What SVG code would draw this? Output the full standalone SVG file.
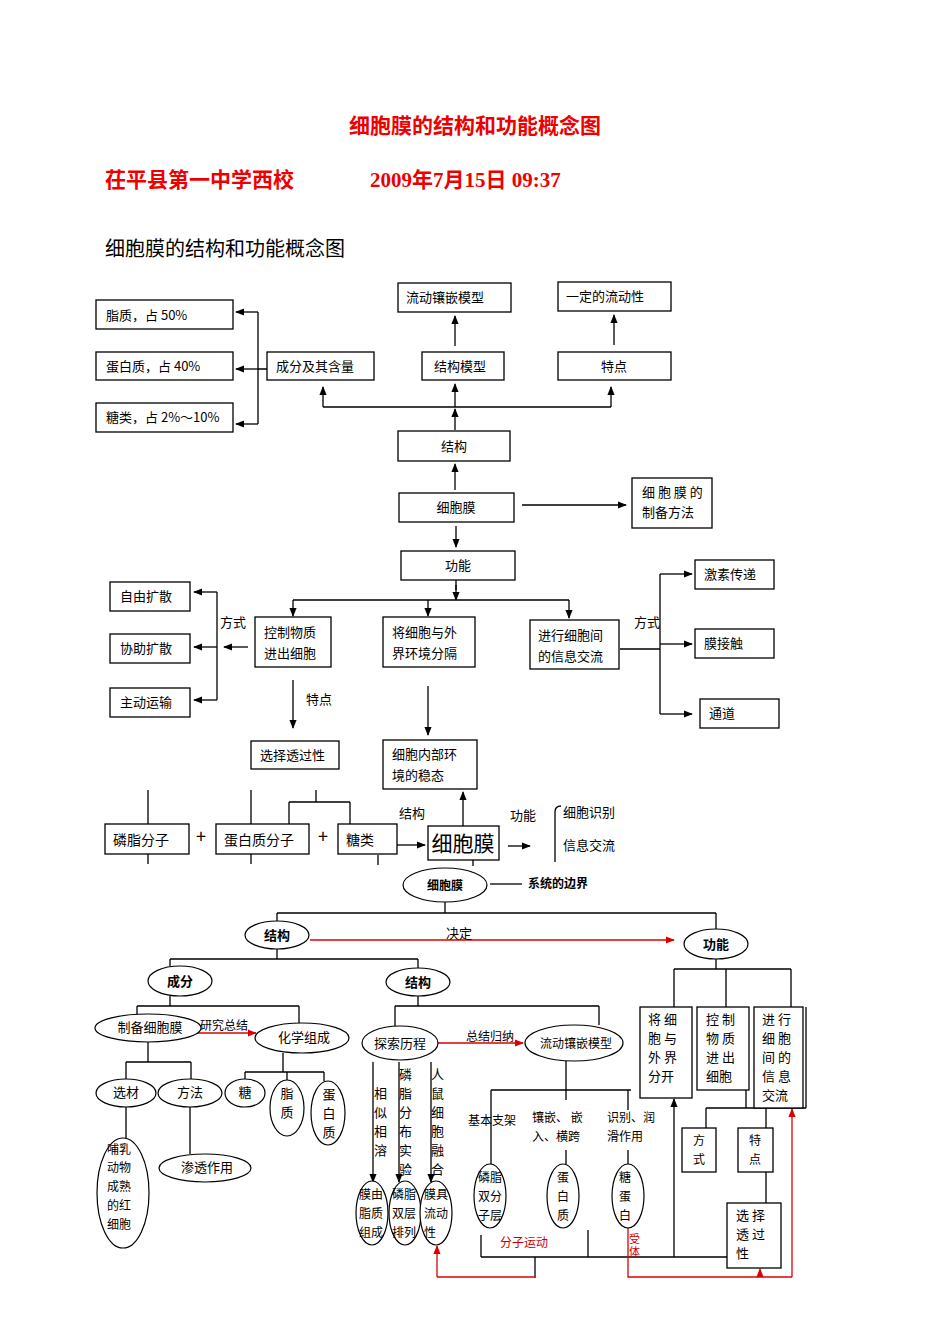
<svg xmlns="http://www.w3.org/2000/svg" width="950" height="1342" viewBox="0 0 950 1342">
<defs>
<marker id="a" viewBox="0 0 10 10" refX="9" refY="5" markerWidth="7" markerHeight="7" orient="auto"><path d="M0,1 L10,5 L0,9 z" fill="#000"/></marker>
<marker id="r" viewBox="0 0 10 10" refX="9" refY="5" markerWidth="7" markerHeight="7" orient="auto"><path d="M0,1 L10,5 L0,9 z" fill="#d00"/></marker>
</defs>
<style>
text{font-family:"Noto Sans CJK SC","Liberation Sans",sans-serif;font-size:13px;fill:#000}
.b{fill:#fff;stroke:#000;stroke-width:1.3}
.e{fill:#fff;stroke:#000;stroke-width:1.2}
.l{fill:none;stroke:#000;stroke-width:1.3}
.la{fill:none;stroke:#000;stroke-width:1.3;marker-end:url(#a)}
.rl{fill:none;stroke:#d00;stroke-width:1.3}
.ra{fill:none;stroke:#d00;stroke-width:1.3;marker-end:url(#r)}
.t{font-family:"Liberation Serif","Noto Sans CJK SC",serif;font-size:21px;font-weight:bold;fill:#e00}
.bd{font-weight:bold}
.red{fill:#c00}
.m{text-anchor:middle}
</style>
<rect width="950" height="1342" fill="#fff"/>
<text class="t m" x="475" y="133">细胞膜的结构和功能概念图</text>
<text class="t" x="105" y="187">茌平县第一中学西校</text>
<text class="t" x="370" y="187">2009年7月15日  09:37</text>
<text x="105" y="256" style="font-size:20px;font-family:'Noto Sans CJK SC',serif">细胞膜的结构和功能概念图</text>

<g id="connectors">
<path class="l" d="M258,312 V424 M267,369 H258"/>
<path class="la" d="M258,312 H236"/><path class="la" d="M258,369 H236"/><path class="la" d="M258,424 H236"/>
<path class="l" d="M323,407 H611"/>
<path class="la" d="M323,407 V387"/><path class="la" d="M455,407 V384"/><path class="la" d="M611,407 V387"/>
<path class="la" d="M455,430 V409"/><path class="la" d="M455,346 V316"/><path class="la" d="M614,345 V315"/>
<path class="la" d="M455,490 V464"/><path class="la" d="M522,505 H626"/><path class="la" d="M456,526 V547"/>
<path class="l" d="M293,600 H569 M456,580 V590"/>
<path class="la" d="M456,585 V600"/><path class="la" d="M293,600 V616"/><path class="la" d="M428,600 V616"/><path class="la" d="M569,600 V618"/>
<path class="l" d="M217,592 V700"/>
<path class="la" d="M217,592 H194"/><path class="la" d="M217,647 H194"/><path class="la" d="M217,700 H194"/><path class="la" d="M248,647 H224"/>
<path class="la" d="M293,680 V728"/><path class="la" d="M428,686 V735"/>
<path class="l" d="M620,649 H660 M660,574 V714"/>
<path class="la" d="M660,574 H692"/><path class="la" d="M660,644 H692"/><path class="la" d="M660,714 H692"/>
<path class="l" d="M148,790 V824 M148,854 V864 M251,790 V824 M251,854 V864 M316,790 V802 M289,802 H350 M289,802 V824 M350,802 V824 M378,855 V865 M473,860 V866 M555,862 V812 Q555,806 561,806"/>
<path class="la" d="M397,845 H425"/><path class="la" d="M463,826 V792"/><path class="la" d="M508,846 H530"/>
<path class="l" d="M490,884 H522"/>
<path class="l" d="M445,902 V913 M277,913 H716 M277,913 V921 M716,913 V929"/>
<path class="ra" d="M310,940 H674"/>
<path class="l" d="M277,949 V959 M170,959 H418 M170,959 V966 M418,959 V968"/>
<path class="l" d="M170,996 V1006 M137,1006 H299 M137,1006 V1018 M299,1006 V1023"/>
<path class="ra" d="M193,1033 H256"/>
<path class="l" d="M148,1042 V1062 M126,1062 H191 M126,1062 V1079 M191,1062 V1079 M126,1107 V1138 M190,1107 V1154"/>
<path class="l" d="M283,1053 V1072 M245,1072 H324 M245,1072 V1079 M287,1072 V1080 M324,1072 V1081"/>
<path class="l" d="M418,996 V1006 M395,1006 H599 M395,1006 V1026 M599,1006 V1025"/>
<path class="ra" d="M438,1043 H523"/>
<path class="la" d="M373,1062 V1182"/><path class="la" d="M399,1062 V1182"/><path class="la" d="M431,1062 V1182"/>
<path class="l" d="M566,1061 V1090 M491,1090 H631 M491,1090 V1164 M566,1090 V1100 M566,1150 V1164 M628,1090 V1110 M628,1150 V1164"/>
<path class="l" d="M481,1235 V1257 M588,1230 V1257 M481,1257 H727 M535,1257 V1278"/>
<path class="la" d="M674,1257 V1099"/>
<path class="rl" d="M535,1277 H437"/>
<path class="ra" d="M437,1277 V1246"/>
<path class="rl" d="M628,1228 V1277 H792"/>
<path class="ra" d="M792,1277 V1109"/><path class="ra" d="M760,1277 V1269"/>
<path class="l" d="M716,959 V969 M674,969 H791 M674,969 V1007 M726,969 V1007 M791,969 V1007 M806,1007 V1108"/>
<path class="l" d="M746,1090 V1108 M706,1108 H806 M706,1108 V1128 M766,1108 V1128 M766,1172 V1203"/>
</g>

<g id="n-zhizhi"><rect class="b" x="96" y="300" width="137" height="29"/><text x="106" y="320">脂质，占 50%</text></g>
<g id="n-danbai"><rect class="b" x="96" y="352" width="137" height="28"/><text x="106" y="371">蛋白质，占 40%</text></g>
<g id="n-tang"><rect class="b" x="96" y="403" width="137" height="29"/><text x="106" y="422">糖类，占 2%～10%</text></g>
<g id="n-chengfen"><rect class="b" x="267" y="352" width="107" height="28"/><text x="276" y="371">成分及其含量</text></g>
<g id="n-jiegoumoxing"><rect class="b" x="422" y="352" width="82" height="28"/><text class="m" x="460" y="371">结构模型</text></g>
<g id="n-tedian"><rect class="b" x="558" y="352" width="113" height="28"/><text class="m" x="614" y="371">特点</text></g>
<g id="n-liudong"><rect class="b" x="398" y="283" width="113" height="29"/><text x="406" y="302">流动镶嵌模型</text></g>
<g id="n-yiding"><rect class="b" x="558" y="282" width="113" height="29"/><text x="566" y="301">一定的流动性</text></g>
<g id="n-jiegou"><rect class="b" x="398" y="431" width="112" height="30"/><text class="m" x="454" y="451">结构</text></g>
<g id="n-xibaomo"><rect class="b" x="399" y="493" width="115" height="29"/><text class="m" x="456" y="512">细胞膜</text></g>
<g id="n-zhibei"><rect class="b" x="632" y="478" width="80" height="50"/><text x="642" y="497">细 胞 膜 的</text><text x="642" y="517">制备方法</text></g>
<g id="n-gongneng"><rect class="b" x="401" y="551" width="114" height="29"/><text class="m" x="458" y="570">功能</text></g>
<g id="n-ziyou"><rect class="b" x="110" y="582" width="80" height="29"/><text x="120" y="601">自由扩散</text></g>
<g id="n-xiezhu"><rect class="b" x="110" y="634" width="80" height="29"/><text x="120" y="653">协助扩散</text></g>
<g id="n-zhudong"><rect class="b" x="110" y="688" width="80" height="29"/><text x="120" y="707">主动运输</text></g>
<text x="220" y="627">方式</text>
<g id="n-kongzhi"><rect class="b" x="255" y="617" width="76" height="50"/><text x="264" y="637">控制物质</text><text x="264" y="658">进出细胞</text></g>
<g id="n-jiang"><rect class="b" x="383" y="617" width="92" height="50"/><text x="392" y="637">将细胞与外</text><text x="392" y="658">界环境分隔</text></g>
<g id="n-jinxing"><rect class="b" x="530" y="620" width="89" height="49"/><text x="538" y="640">进行细胞间</text><text x="538" y="661">的信息交流</text></g>
<text x="634" y="627">方式</text>
<g id="n-jisu"><rect class="b" x="695" y="560" width="79" height="29"/><text x="704" y="579">激素传递</text></g>
<g id="n-mojie"><rect class="b" x="695" y="629" width="79" height="29"/><text x="704" y="648">膜接触</text></g>
<g id="n-tongdao"><rect class="b" x="700" y="699" width="79" height="29"/><text x="709" y="718">通道</text></g>
<text x="306" y="704">特点</text>
<g id="n-xuanze"><rect class="b" x="251" y="741" width="88" height="28"/><text x="260" y="760">选择透过性</text></g>
<g id="n-wentai"><rect class="b" x="383" y="740" width="94" height="49"/><text x="392" y="759">细胞内部环</text><text x="392" y="780">境的稳态</text></g>

<g id="n-linzhi"><rect class="b" x="105" y="824" width="84" height="30"/><text x="113" y="845" style="font-size:14px">磷脂分子</text></g>
<text x="196" y="843" style="font-size:18px">+</text>
<g id="n-danbaizi"><rect class="b" x="216" y="824" width="93" height="30"/><text x="224" y="845" style="font-size:14px">蛋白质分子</text></g>
<text x="318" y="843" style="font-size:18px">+</text>
<g id="n-tanglei"><rect class="b" x="338" y="824" width="59" height="30"/><text x="346" y="845" style="font-size:14px">糖类</text></g>
<text x="399" y="818">结构</text>
<g id="n-bigmo"><rect class="b" x="428" y="826" width="71" height="34"/><text class="m" x="463" y="851" style="font-size:21px">细胞膜</text></g>
<text x="510" y="820">功能</text>
<text x="563" y="817">细胞识别</text>
<text x="563" y="850">信息交流</text>

<g id="n-e-xibaomo"><ellipse class="e" cx="445" cy="885" rx="42" ry="17"/><text class="m bd" x="445" y="890" style="font-size:12px">细胞膜</text></g>
<text class="bd" x="528" y="888" style="font-size:12px">系统的边界</text>
<g id="n-e-jiegou"><ellipse class="e" cx="277" cy="935" rx="32" ry="14"/><text class="m bd" x="277" y="940">结构</text></g>
<text x="446" y="938">决定</text>
<g id="n-e-gongneng"><ellipse class="e" cx="716" cy="944" rx="32" ry="15"/><text class="m bd" x="716" y="949">功能</text></g>
<g id="n-e-chengfen"><ellipse class="e" cx="180" cy="981" rx="32" ry="15"/><text class="m bd" x="180" y="986">成分</text></g>
<g id="n-e-jiegou2"><ellipse class="e" cx="418" cy="982" rx="32" ry="14"/><text class="m bd" x="418" y="987">结构</text></g>
<g id="n-e-zhibei"><ellipse class="e" cx="148" cy="1028" rx="53" ry="14"/><text class="m" x="150" y="1032">制备细胞膜</text></g>
<text x="200" y="1030" style="font-size:12px">研究总结</text>
<g id="n-e-huaxue"><ellipse class="e" cx="302" cy="1038" rx="47" ry="15"/><text class="m" x="304" y="1042">化学组成</text></g>
<g id="n-e-xuancai"><ellipse class="e" cx="126" cy="1093" rx="30" ry="14"/><text class="m" x="126" y="1097">选材</text></g>
<g id="n-e-fangfa"><ellipse class="e" cx="190" cy="1093" rx="32" ry="14"/><text class="m" x="190" y="1097">方法</text></g>
<g id="n-e-buru"><ellipse class="e" cx="123" cy="1193" rx="26" ry="55"/><text x="107" y="1154" style="font-size:12px">哺乳</text><text x="107" y="1172" style="font-size:12px">动物</text><text x="107" y="1191" style="font-size:12px">成熟</text><text x="107" y="1210" style="font-size:12px">的红</text><text x="107" y="1229" style="font-size:12px">细胞</text></g>
<g id="n-e-shentou"><ellipse class="e" cx="205" cy="1168" rx="46" ry="14"/><text class="m" x="207" y="1172">渗透作用</text></g>
<g id="n-e-tang"><ellipse class="e" cx="245" cy="1093" rx="20" ry="14"/><text class="m" x="245" y="1097">糖</text></g>
<g id="n-e-zhizhi"><ellipse class="e" cx="287" cy="1108" rx="17" ry="28"/><text class="m" x="287" y="1098">脂</text><text class="m" x="287" y="1117">质</text></g>
<g id="n-e-danbai"><ellipse class="e" cx="328" cy="1113" rx="17" ry="32"/><text class="m" x="329" y="1099">蛋</text><text class="m" x="329" y="1118">白</text><text class="m" x="329" y="1137">质</text></g>
<g id="n-e-tansuo"><ellipse class="e" cx="400" cy="1043" rx="38" ry="17"/><text class="m" x="400" y="1048">探索历程</text></g>
<text x="466" y="1041" style="font-size:12px">总结归纳</text>
<g id="n-e-liudong"><ellipse class="e" cx="574" cy="1043" rx="49" ry="18"/><text class="m" x="576" y="1048" style="font-size:12px">流动镶嵌模型</text></g>
<g style="font-size:12px">
<text x="374" y="1098">相</text><text x="374" y="1117">似</text><text x="374" y="1136">相</text><text x="374" y="1155">溶</text>
<text x="399" y="1079">磷</text><text x="399" y="1098">脂</text><text x="399" y="1117">分</text><text x="399" y="1136">布</text><text x="399" y="1155">实</text><text x="399" y="1174">验</text>
<text x="431" y="1079">人</text><text x="431" y="1098">鼠</text><text x="431" y="1117">细</text><text x="431" y="1136">胞</text><text x="431" y="1155">融</text><text x="431" y="1174">合</text>
</g>
<g id="n-e-mozhizhi"><ellipse class="e" cx="372" cy="1213" rx="16" ry="32"/><text x="359" y="1199" style="font-size:12px">膜由</text><text x="359" y="1218" style="font-size:12px">脂质</text><text x="359" y="1237" style="font-size:12px">组成</text></g>
<g id="n-e-shuangceng"><ellipse class="e" cx="405" cy="1213" rx="16" ry="32"/><text x="392" y="1199" style="font-size:12px">磷脂</text><text x="392" y="1218" style="font-size:12px">双层</text><text x="392" y="1237" style="font-size:12px">排列</text></g>
<g id="n-e-liudongxing"><ellipse class="e" cx="436" cy="1213" rx="16" ry="32"/><text x="424" y="1199" style="font-size:12px">膜具</text><text x="424" y="1218" style="font-size:12px">流动</text><text x="424" y="1237" style="font-size:12px">性</text></g>
<text x="468" y="1125" style="font-size:12px">基本支架</text>
<text x="532" y="1122" style="font-size:12px">镶嵌、 嵌</text><text x="532" y="1141" style="font-size:12px">入、横跨</text>
<text x="607" y="1122" style="font-size:12px">识别、润</text><text x="607" y="1141" style="font-size:12px">滑作用</text>
<g id="n-e-shuangfen"><ellipse class="e" cx="490" cy="1196" rx="16" ry="32"/><text x="478" y="1182" style="font-size:12px">磷脂</text><text x="478" y="1201" style="font-size:12px">双分</text><text x="478" y="1220" style="font-size:12px">子层</text></g>
<g id="n-e-danbaizhi"><ellipse class="e" cx="563" cy="1196" rx="16" ry="32"/><text class="m" x="563" y="1182" style="font-size:12px">蛋</text><text class="m" x="563" y="1201" style="font-size:12px">白</text><text class="m" x="563" y="1220" style="font-size:12px">质</text></g>
<g id="n-e-tangdanbai"><ellipse class="e" cx="628" cy="1196" rx="16" ry="32"/><text class="m" x="625" y="1182" style="font-size:12px">糖</text><text class="m" x="625" y="1201" style="font-size:12px">蛋</text><text class="m" x="625" y="1220" style="font-size:12px">白</text></g>
<text class="red" x="500" y="1247" style="font-size:12px">分子运动</text>
<text class="red" x="629" y="1243" style="font-size:11px">受</text><text class="red" x="629" y="1256" style="font-size:11px">体</text>
<g id="n-f1"><rect class="b" x="640" y="1007" width="52" height="91"/><g style="font-size:12px"><text x="648" y="1024">将  细</text><text x="648" y="1043">胞  与</text><text x="648" y="1062">外  界</text><text x="648" y="1081">分开</text></g></g>
<g id="n-f2"><rect class="b" x="697" y="1007" width="52" height="83"/><g style="font-size:12px"><text x="706" y="1024">控  制</text><text x="706" y="1043">物  质</text><text x="706" y="1062">进  出</text><text x="706" y="1081">细胞</text></g></g>
<g id="n-f3"><rect class="b" x="754" y="1007" width="49" height="101"/><g style="font-size:12px"><text x="762" y="1024">进  行</text><text x="762" y="1043">细  胞</text><text x="762" y="1062">间  的</text><text x="762" y="1081">信  息</text><text x="762" y="1100">交流</text></g></g>
<g id="n-fangshi"><rect class="b" x="682" y="1128" width="34" height="44"/><text class="m" x="699" y="1145" style="font-size:12px">方</text><text class="m" x="699" y="1164" style="font-size:12px">式</text></g>
<g id="n-tedian2"><rect class="b" x="738" y="1128" width="35" height="44"/><text class="m" x="755" y="1145" style="font-size:12px">特</text><text class="m" x="755" y="1164" style="font-size:12px">点</text></g>
<g id="n-xuanze2"><rect class="b" x="727" y="1203" width="54" height="65"/><g style="font-size:12px"><text x="736" y="1220">选  择</text><text x="736" y="1239">透  过</text><text x="736" y="1258">性</text></g></g>
</svg>
